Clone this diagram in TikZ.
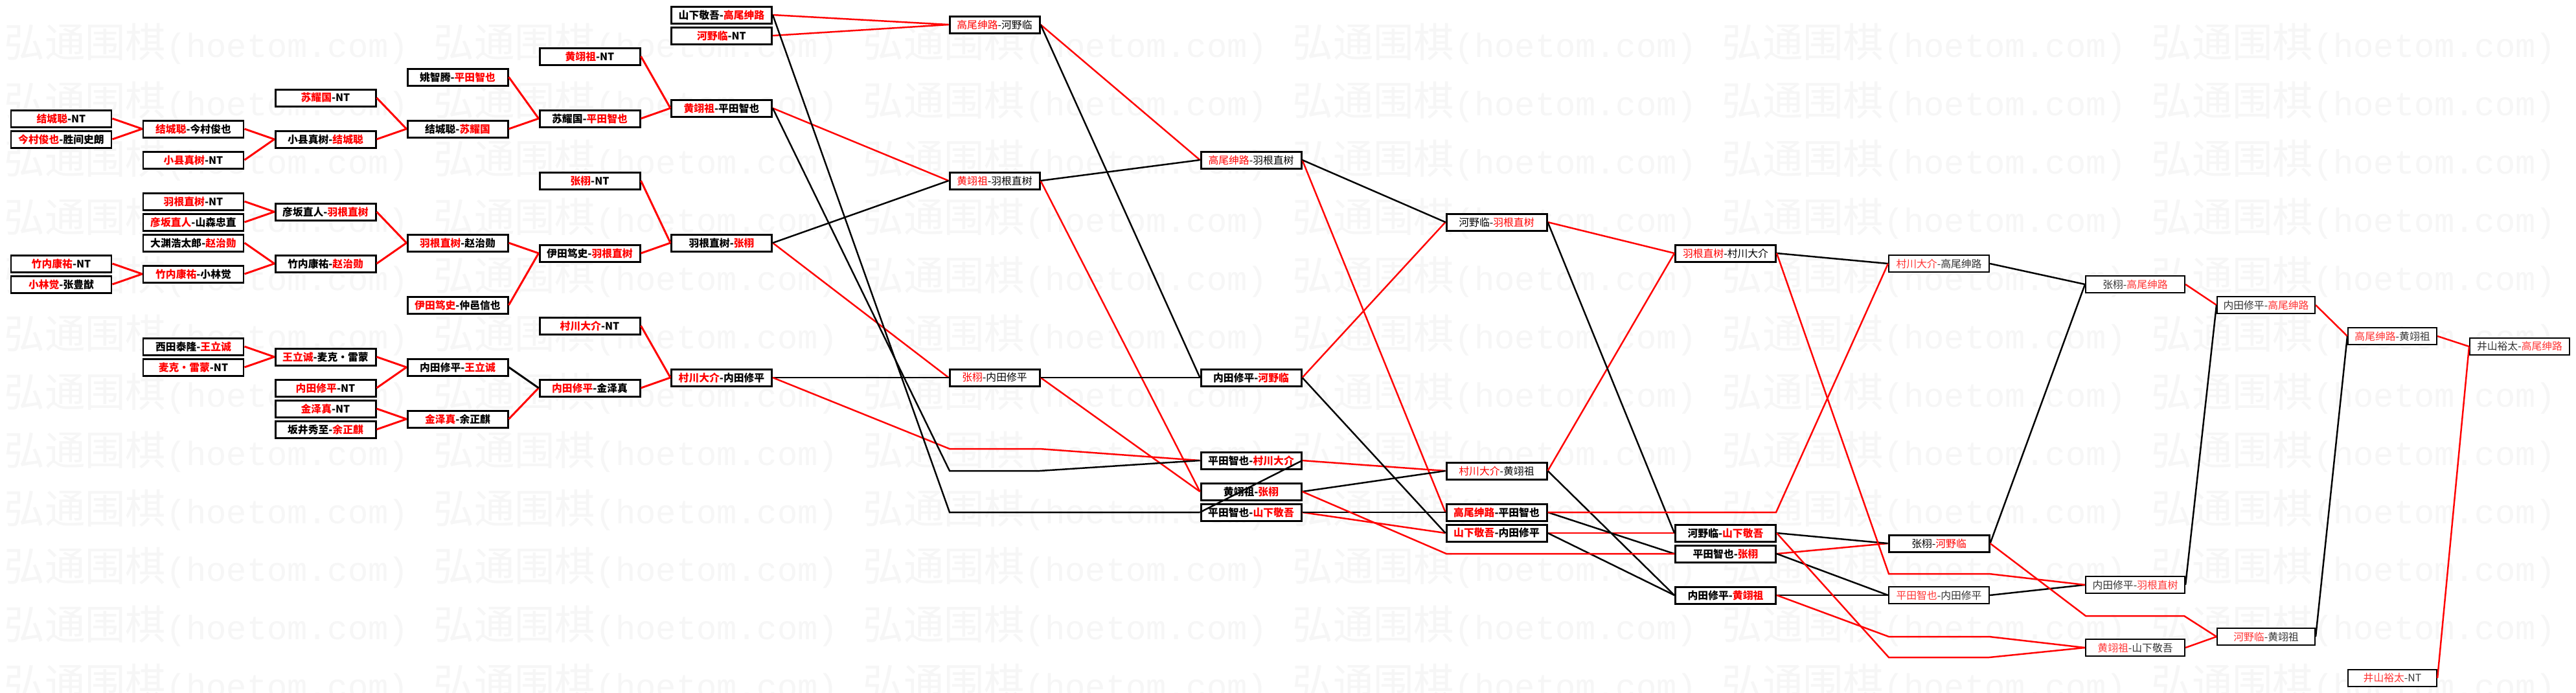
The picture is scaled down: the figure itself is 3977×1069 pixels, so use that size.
\documentclass[tikz,border=0pt]{standalone}
\usepackage{fontspec}
\usepackage{graphicx}
\newfontfamily\cjk{Noto Sans CJK SC}
\newfontfamily\wmmono{Liberation Mono}
\newcommand{\win}[1]{\textcolor{red}{#1}}
\newcommand{\lwin}[1]{\textcolor{red!80}{#1}}
\tikzset{
  matchbox/.style={draw, fill=white, line width=0.85pt, minimum width=15.5mm,
    minimum height=2.6mm, inner sep=0pt, font=\cjk\bfseries\fontsize{4.5}{5}\selectfont},
  midbox/.style={matchbox, font=\cjk\fontsize{4.5}{5}\selectfont},
  latebox/.style={midbox, line width=0.6pt, text=black!80},
  winline/.style={draw=red, line width=0.7pt},
  loseline/.style={draw=black, line width=0.7pt},
  watermark/.style={text=black!3.5, inner sep=0pt, anchor=west}
}
\begin{document}
\begin{tikzpicture}[x=0.1mm, y=-0.1mm]
\clip (0,0) rectangle (3977,1069);
\fill[white] (0,0) rectangle (3977,1069);

% watermark
\foreach \r in {0,...,11}
  \foreach \c in {0,...,5}
    \node[watermark] at ({6+663*\c},{68+89.9*\r})
      {\resizebox{62.4mm}{!}{{\cjk\fontseries{l}\selectfont 弘通围棋}{\wmmono\fontsize{8.33}{10}\selectfont (hoetom.com)}}};

% first rounds
\node[matchbox] (a1) at (94.5,183) {\win{结城聪}-NT};
\node[matchbox] (a2) at (94.5,215) {\win{今村俊也}-胜间史朗};
\node[matchbox] (a3) at (94.5,407) {\win{竹内康祐}-NT};
\node[matchbox] (a4) at (94.5,439) {\win{小林觉}-张豊猷};

\node[matchbox] (b1) at (298.5,199) {\win{结城聪}-今村俊也};
\node[matchbox] (b2) at (298.5,247) {\win{小县真树}-NT};
\node[matchbox] (b3) at (298.5,311) {\win{羽根直树}-NT};
\node[matchbox] (b4) at (298.5,343) {\win{彦坂直人}-山森忠直};
\node[matchbox] (b5) at (298.5,375) {大渊浩太郎-\win{赵治勋}};
\node[matchbox] (b6) at (298.5,423) {\win{竹内康祐}-小林觉};
\node[matchbox] (b7) at (298.5,535) {西田泰隆-\win{王立诚}};
\node[matchbox] (b8) at (298.5,567) {\win{麦克・雷蒙}-NT};

\node[matchbox] (c1) at (502.5,151) {\win{苏耀国}-NT};
\node[matchbox] (c2) at (502.5,215) {小县真树-\win{结城聪}};
\node[matchbox] (c3) at (502.5,327) {彦坂直人-\win{羽根直树}};
\node[matchbox] (c4) at (502.5,407) {竹内康祐-\win{赵治勋}};
\node[matchbox] (c5) at (502.5,551) {\win{王立诚}-麦克・雷蒙};
\node[matchbox] (c6) at (502.5,599) {\win{内田修平}-NT};
\node[matchbox] (c7) at (502.5,631) {\win{金泽真}-NT};
\node[matchbox] (c8) at (502.5,663) {坂井秀至-\win{余正麒}};

\node[matchbox] (d1) at (706.5,119) {姚智腾-\win{平田智也}};
\node[matchbox] (d2) at (706.5,199) {结城聪-\win{苏耀国}};
\node[matchbox] (d3) at (706.5,375) {\win{羽根直树}-赵治勋};
\node[matchbox] (d4) at (706.5,471) {\win{伊田笃史}-仲邑信也};
\node[matchbox] (d5) at (706.5,567) {内田修平-\win{王立诚}};
\node[matchbox] (d6) at (706.5,647) {\win{金泽真}-余正麒};

\node[matchbox] (f0) at (910.5,87) {\win{黄翊祖}-NT};
\node[matchbox] (f1) at (910.5,183) {苏耀国-\win{平田智也}};
\node[matchbox] (f2) at (910.5,279) {\win{张栩}-NT};
\node[matchbox] (f3) at (910.5,391) {伊田笃史-\win{羽根直树}};
\node[matchbox] (f4) at (910.5,503) {\win{村川大介}-NT};
\node[matchbox] (f5) at (910.5,599) {\win{内田修平}-金泽真};

\node[matchbox] (e1) at (1114,23) {山下敬吾-\win{高尾绅路}};
\node[matchbox] (e2) at (1114,55) {\win{河野临}-NT};
\node[matchbox] (e3) at (1114,167) {\win{黄翊祖}-平田智也};
\node[matchbox] (e4) at (1114,375) {羽根直树-\win{张栩}};
\node[matchbox] (e5) at (1114,583) {\win{村川大介}-内田修平};

% later rounds
\node[midbox, minimum width=13.9mm] (g1) at (1535.5,38) {\win{高尾绅路}-河野临};
\node[midbox, minimum width=13.9mm] (g2) at (1535.5,279) {\win{黄翊祖}-羽根直树};
\node[midbox, minimum width=13.9mm] (g3) at (1535.5,583) {\win{张栩}-内田修平};

\node[midbox] (h1) at (1931.5,247) {\win{高尾绅路}-羽根直树};
\node[matchbox] (h2) at (1931.5,583) {内田修平-\win{河野临}};
\node[matchbox] (h3) at (1931.5,711) {平田智也-\win{村川大介}};
\node[matchbox] (h4) at (1931.5,759) {黄翊祖-\win{张栩}};
\node[matchbox] (h5) at (1931.5,791) {平田智也-\win{山下敬吾}};

\node[midbox] (i0) at (2310.5,343) {河野临-\win{羽根直树}};
\node[midbox] (i1) at (2310.5,727) {\win{村川大介}-黄翊祖};
\node[matchbox] (i2) at (2310.5,791) {\win{高尾绅路}-平田智也};
\node[matchbox] (i3) at (2310.5,823) {\win{山下敬吾}-内田修平};

\node[midbox] (j0) at (2664,391) {\win{羽根直树}-村川大介};
\node[matchbox] (j1) at (2664,823) {河野临-\win{山下敬吾}};
\node[matchbox] (j2) at (2664,855) {平田智也-\win{张栩}};
\node[matchbox] (j3) at (2664,919) {内田修平-\win{黄翊祖}};

\node[latebox] (l0) at (2993.5,407) {\lwin{村川大介}-高尾绅路};
\node[midbox] (l1) at (2993.5,839) {张栩-\win{河野临}};
\node[latebox] (l2) at (2993.5,919) {\lwin{平田智也}-内田修平};

\node[latebox, minimum width=15.3mm] (m0) at (3296.5,439) {张栩-\lwin{高尾绅路}};
\node[latebox, minimum width=15.3mm] (n1) at (3296.5,903) {内田修平-\lwin{羽根直树}};
\node[latebox, minimum width=15.3mm] (n2) at (3296.5,1000) {\lwin{黄翊祖}-山下敬吾};

\node[latebox, minimum width=15.1mm] (q0) at (3498.5,471) {内田修平-\lwin{高尾绅路}};
\node[latebox, minimum width=15.1mm] (p1) at (3498.5,983) {\lwin{河野临}-黄翊祖};

\node[latebox, minimum width=13.7mm] (r0) at (3693.5,519) {\lwin{高尾绅路}-黄翊祖};
\node[latebox, minimum width=13.7mm] (t0) at (3693.5,1047) {\lwin{井山裕太}-NT};

\node[latebox, minimum width=15.4mm] (s0) at (3890,535) {井山裕太-\lwin{高尾绅路}};

% connectors
\foreach \s/\t in {a1/b1, a2/b1, b1/c2, b2/c2, c1/d2, c2/d2, b3/c3, b4/c3, b5/c4,
    b6/c4, a3/b6, a4/b6, c3/d3, c4/d3, b7/c5, b8/c5, c5/d5, c6/d5, c7/d6, c8/d6,
    d1/f1, d2/f1, d3/f3, d4/f3, d6/f5, f0/e3, f1/e3, f2/e4, f3/e4, f4/e5, f5/e5}
  \draw[winline, line width=0.85pt] (\s.east) -- (\t.west);
\draw[loseline, line width=0.85pt] (d5.east) -- (f5.west);

\foreach \s/\t in {e1/g1, e2/g1, e3/g2, e4/g3, g1/h1, g2/h4, g3/h4, h2/i0, h1/i2,
    h3/i1, h5/i3, i0/j0, i1/j0, i3/j1, j2/l1, m0/q0, q0/r0, r0/s0, t0/s0, n2/p1}
  \draw[winline] (\s.east) -- (\t.west);
\foreach \s/\t in {e4/g2, e5/g3, g1/h2, g2/h1, g3/h2, h1/i0, h4/i1, h2/i3, h5/i2,
    i0/j1, i2/j2, i1/j3, i3/j3, j0/l0, j1/l1, j2/l2, j3/l2, l0/m0, l1/m0, l2/n1,
    n1/q0, p1/r0}
  \draw[loseline] (\s.east) -- (\t.west);

\draw[winline] (e5.east) -- (1466,693) -- (1605,693) -- (h3.west);
\draw[loseline] (e3.east) -- (1466,727) -- (1605,727) -- (h3.west);
\draw[loseline] (e1.east) -- (1466,791) -- (h5.west);
\draw[loseline] (h3.east) -- (h5.west);
\draw[winline] (h4.east) -- (2233,855) -- (j2.west);
\draw[winline] (i2.east) -- (2742,791) -- (l0.west);
\draw[winline] (j0.east) -- (2916,886) -- (3071,886) -- (n1.west);
\draw[winline] (j1.east) -- (2916,1015) -- (3071,1015) -- (n2.west);
\draw[winline] (j3.east) -- (2916,983) -- (3071,983) -- (n2.west);
\draw[winline] (l1.east) -- (3220,951) -- (3372,951) -- (p1.west);
\end{tikzpicture}
\end{document}
